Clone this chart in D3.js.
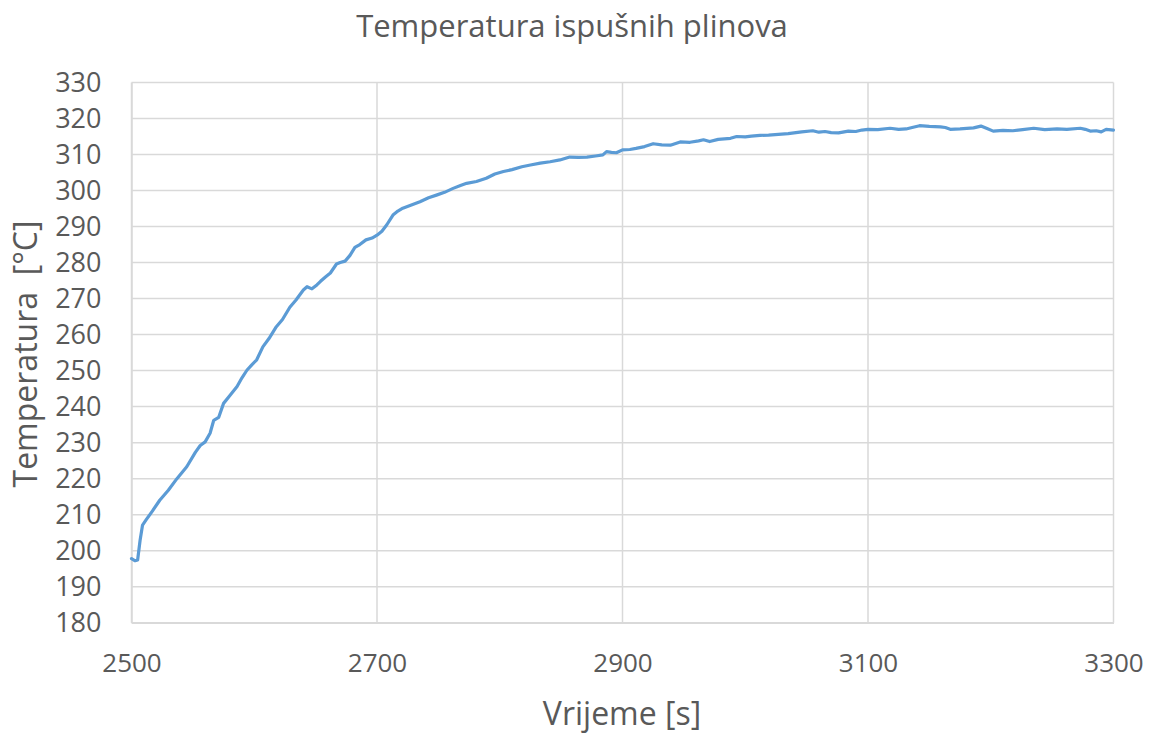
<!DOCTYPE html>
<html>
<head>
<meta charset="utf-8">
<script src="https://cdn.jsdelivr.net/npm/d3@7"></script>
<style>
  body { margin: 0; background: #fff; }
  text { font-family: "Open Sans", sans-serif; fill: #595959; }
</style>
</head>
<body>
<div id="chart"></div>
<script>
// time [s] and temperature [°C]
const time = [2500, 2503, 2505, 2507, 2509, 2512, 2517, 2523, 2530, 2537, 2545, 2552, 2556, 2560, 2564, 2567, 2571, 2575, 2580, 2586, 2590, 2594, 2598, 2602, 2607, 2612, 2618, 2623, 2629, 2634, 2640, 2643, 2647, 2651, 2654, 2658, 2662, 2667, 2670, 2674, 2678, 2682, 2686, 2691, 2696, 2700, 2704, 2708, 2713, 2717, 2721, 2728, 2735, 2742, 2749, 2755, 2762, 2768, 2773, 2781, 2789, 2796, 2803, 2810, 2818, 2825, 2833, 2841, 2849, 2857, 2864, 2871, 2878, 2884, 2887, 2891, 2895, 2900, 2906, 2911, 2918, 2925, 2932, 2939, 2947, 2955, 2962, 2966, 2971, 2978, 2988, 2993, 3000, 3005, 3012, 3019, 3027, 3035, 3046, 3055, 3060, 3065, 3070, 3076, 3084, 3090, 3095, 3100, 3108, 3118, 3125, 3131, 3136, 3142, 3150, 3159, 3163, 3167, 3175, 3186, 3192, 3197, 3202, 3210, 3218, 3226, 3235, 3244, 3254, 3262, 3273, 3277, 3281, 3286, 3290, 3294, 3300];
const temp = [197.8, 197.2, 197.4, 202.9, 207.1, 208.6, 211.0, 214.0, 216.8, 220.0, 223.3, 227.3, 229.2, 230.2, 232.6, 236.2, 237.0, 240.9, 243.0, 245.6, 248.0, 250.1, 251.6, 253.0, 256.6, 258.9, 262.2, 264.2, 267.6, 269.6, 272.4, 273.3, 272.7, 273.8, 274.8, 276.0, 277.1, 279.6, 280.0, 280.4, 282.0, 284.2, 285.0, 286.3, 286.8, 287.6, 288.7, 290.5, 293.2, 294.3, 295.1, 296.0, 296.9, 298.0, 298.8, 299.5, 300.6, 301.4, 302.0, 302.5, 303.4, 304.6, 305.3, 305.8, 306.6, 307.1, 307.6, 308.0, 308.5, 309.3, 309.2, 309.3, 309.6, 309.9, 310.8, 310.6, 310.5, 311.3, 311.4, 311.7, 312.2, 313.0, 312.7, 312.6, 313.5, 313.4, 313.8, 314.1, 313.6, 314.2, 314.5, 315.0, 314.9, 315.1, 315.3, 315.4, 315.6, 315.8, 316.3, 316.6, 316.2, 316.4, 316.1, 316.0, 316.5, 316.4, 316.8, 317.0, 316.9, 317.3, 317.0, 317.1, 317.5, 318.0, 317.8, 317.7, 317.5, 317.0, 317.1, 317.4, 317.9, 317.2, 316.5, 316.7, 316.6, 316.9, 317.3, 316.9, 317.1, 317.0, 317.3, 317.0, 316.5, 316.6, 316.3, 317.0, 316.8];

const xTicks = [2500, 2700, 2900, 3100, 3300];
const yTicks = d3.range(180, 331, 10);

const width = 1153, height = 733;
const margin = { left: 131.5, right: 1153 - 1113.5, top: 82.5, bottom: 733 - 622.7 };

const svg = d3.select("#chart").append("svg")
    .attr("width", width)
    .attr("height", height);

const x = d3.scaleLinear().domain([2500, 3300]).range([margin.left, width - margin.right]);
const y = d3.scaleLinear().domain([180, 330]).range([height - margin.bottom, margin.top]);

// grid
svg.append("g")
    .attr("stroke", "#d9d9d9")
    .attr("stroke-width", 1.5)
  .selectAll("line.h")
  .data(yTicks)
  .join("line")
    .attr("x1", x(2500)).attr("x2", x(3300))
    .attr("y1", d => y(d)).attr("y2", d => y(d));

svg.append("g")
    .attr("stroke", "#d9d9d9")
    .attr("stroke-width", 1.5)
  .selectAll("line.v")
  .data(xTicks)
  .join("line")
    .attr("x1", d => x(d)).attr("x2", d => x(d))
    .attr("y1", y(180)).attr("y2", y(330));

// axes
const xAxis = svg.append("g")
    .attr("transform", `translate(0,${y(180)})`)
    .call(d3.axisBottom(x).tickValues(xTicks).tickSize(0).tickPadding(31).tickFormat(d3.format("d")));
xAxis.select(".domain").attr("stroke", "#d9d9d9").attr("stroke-width", 1.5);
xAxis.selectAll("text").style("font-size", "26px").style("fill", "#595959");

const yAxis = svg.append("g")
    .attr("transform", `translate(${x(2500)},0)`)
    .call(d3.axisLeft(y).tickValues(yTicks).tickSize(0).tickPadding(30).tickFormat(d3.format("d")));
yAxis.select(".domain").attr("stroke", "#d9d9d9").attr("stroke-width", 1.5);
yAxis.selectAll("text").style("font-size", "27px").style("fill", "#595959");

// line
const pts = time.map((t, i) => [t, temp[i]]);
svg.append("path")
    .datum(pts)
    .attr("fill", "none")
    .attr("stroke", "#5b9bd5")
    .attr("stroke-width", 3.2)
    .attr("stroke-linejoin", "round")
    .attr("stroke-linecap", "round")
    .attr("d", d3.line().x(d => x(d[0])).y(d => y(d[1])));

// titles
svg.append("text")
    .attr("x", 572).attr("y", 37)
    .attr("text-anchor", "middle")
    .style("font-size", "31px")
    .text("Temperatura ispušnih plinova");

svg.append("text")
    .attr("x", 622).attr("y", 725)
    .attr("text-anchor", "middle")
    .style("font-size", "32px")
    .text("Vrijeme [s]");

svg.append("text")
    .attr("transform", "translate(37,354) rotate(-90)")
    .attr("text-anchor", "middle")
    .style("font-size", "32px")
    .style("white-space", "pre")
    .text("Temperatura  [°C]");
</script>
</body>
</html>
